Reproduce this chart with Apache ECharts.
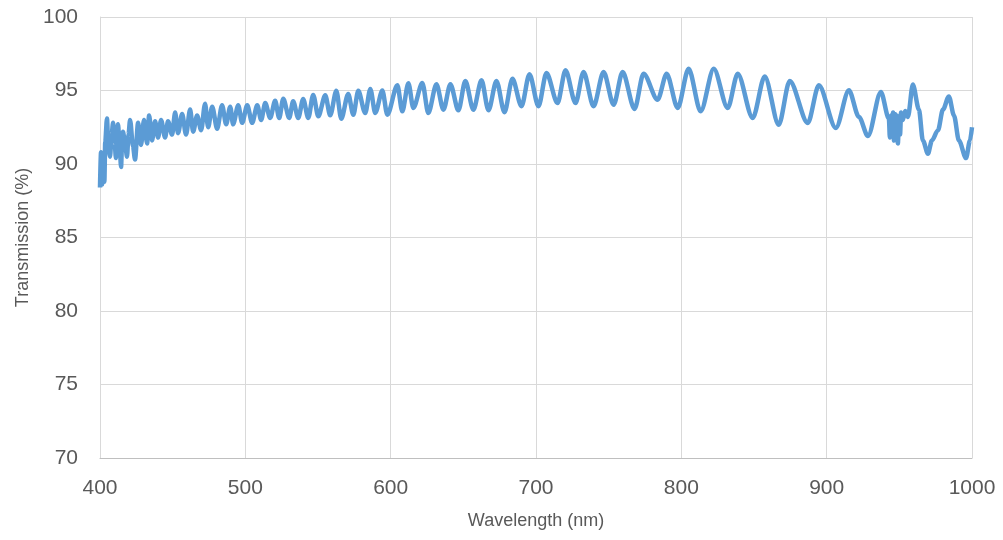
<!DOCTYPE html>
<html lang="en">
<head>
    <meta charset="UTF-8">
    <title>Transmission</title>
    <style>
        *{
            margin: 0;
            padding: 0;
        }
        body{
            background: #ffffff;
        }
        .box{
            width: 1003px;
            height: 540px;
        }
    </style>
    <script src="https://cdn.jsdelivr.net/npm/echarts@6/dist/echarts.min.js"></script>
</head>
<body>
    <div class="box" id="box"></div>
    <script>
        // wavelength (nm)
        var wavelength = [
            400.0, 400.7, 401.4, 402.1, 403.0, 403.6, 404.8, 405.8, 406.9, 408.0,
            409.0, 410.0, 411.0, 411.7, 412.4, 413.5, 414.5, 415.2, 415.8, 417.2,
            418.6, 419.6, 420.7, 422.7, 424.1, 426.2, 428.2, 430.3, 432.4, 433.8,
            435.8, 437.9, 440.0, 442.0, 444.8, 446.8, 449.6, 451.7, 453.7, 456.5,
            459.2, 462.0, 464.1, 466.8, 469.6, 472.3, 474.4, 477.2, 480.6, 484.0,
            486.8, 489.6, 491.6, 495.1, 497.8, 501.3, 504.7, 508.2, 510.9, 513.7,
            517.1, 520.5, 523.3, 526.1, 530.2, 532.9, 536.4, 539.8, 543.3, 546.7,
            550.2, 555.0, 558.4, 562.6, 566.0, 570.8, 574.3, 577.7, 582.5, 586.0,
            589.4, 594.3, 597.7, 604.6, 608.0, 612.2, 615.6, 621.8, 625.9, 631.5,
            636.3, 641.1, 646.6, 651.4, 656.9, 662.5, 667.3, 672.8, 678.3, 683.8,
            690.0, 695.5, 701.7, 707.2, 714.8, 720.3, 727.2, 732.7, 739.6, 746.5,
            753.4, 759.6, 767.8, 774.0, 783.7, 789.9, 797.5, 805.0, 813.3, 822.3,
            831.9, 838.8, 849.1, 857.4, 867.0, 874.6, 887.0, 894.6, 906.3, 915.3,
            922.2, 928.4, 937.3, 942.8, 943.5, 944.3, 945.0, 945.7, 946.3, 947.0,
            947.5, 948.2, 949.0, 949.8, 950.5, 951.2, 952.5, 954.0, 955.9, 959.3,
            963.5, 966.2, 969.7, 972.4, 976.6, 980.0, 984.1, 987.6, 991.0, 995.9,
            998.6, 1000.0
        ];
        // transmission (%)
        var transmission = [
            88.4, 90.8, 88.6, 90.5, 88.8, 91.5, 93.1, 91.0, 90.5, 92.0,
            92.8, 91.5, 90.4, 91.8, 92.7, 91.2, 89.8, 91.5, 92.2, 91.4,
            90.5, 92.0, 93.0, 91.2, 90.3, 92.8, 91.3, 93.0, 91.4, 93.3,
            91.6, 92.9, 91.8, 93.0, 91.8, 92.9, 92.0, 93.5, 92.1, 93.4,
            92.0, 93.7, 92.2, 93.3, 92.3, 94.1, 92.5, 93.9, 92.4, 94.0,
            92.7, 93.9, 92.7, 94.0, 92.8, 94.0, 92.8, 94.0, 93.0, 94.15,
            93.13, 94.3, 93.13, 94.44, 93.13, 94.27, 93.13, 94.42, 93.13, 94.7,
            93.24, 94.67, 93.31, 94.98, 93.08, 94.76, 93.35, 94.98, 93.47, 95.1,
            93.47, 95.0, 93.35, 95.35, 93.58, 95.5, 93.81, 95.51, 93.47, 95.42,
            93.69, 95.42, 93.65, 95.65, 93.69, 95.69, 93.65, 95.65, 93.52, 95.8,
            93.93, 96.1, 93.93, 96.19, 94.15, 96.37, 94.15, 96.26, 93.93, 96.26,
            94.03, 96.26, 93.74, 96.14, 94.37, 96.14, 93.81, 96.48, 93.58, 96.48,
            93.81, 96.14, 93.13, 95.96, 92.67, 95.65, 92.79, 95.35, 92.45, 95.01,
            93.2, 91.9, 94.9, 93.1, 91.8, 93.3, 92.0, 93.5, 91.6, 93.4,
            91.8, 93.3, 91.4, 93.2, 92.0, 93.5, 93.0, 93.6, 93.2, 95.4,
            93.7, 91.6, 90.7, 91.6, 92.3, 93.7, 94.6, 93.3, 91.6, 90.4,
            91.6, 92.5
        ];
        var xTicks = [400, 1000, 100];   // min, max, step
        var yTicks = [70, 100, 5];

        var points = [];
        for (var i = 0; i < wavelength.length; i++) {
            points.push([wavelength[i], transmission[i]]);
        }

        var textColor = '#595959';
        var gridColor = '#d9d9d9';
        var myChart = echarts.init(document.getElementById('box'));
        var option = {
            animation: false,
            grid: {
                left: 100,
                right: 31,
                top: 17,
                bottom: 82
            },
            xAxis: {
                type: 'value',
                min: xTicks[0],
                max: xTicks[1],
                interval: xTicks[2],
                name: 'Wavelength (nm)',
                nameLocation: 'middle',
                nameGap: 54,
                nameTextStyle: {
                    color: textColor,
                    fontSize: 18,
                    fontFamily: 'Liberation Sans'
                },
                axisLine: { lineStyle: { color: '#bfbfbf', width: 1 } },
                axisTick: { show: false },
                axisLabel: {
                    color: textColor,
                    fontSize: 21,
                    fontFamily: 'Liberation Sans',
                    margin: 20,
                    formatter: function (v) { return String(v); }
                },
                splitLine: { show: true, lineStyle: { color: gridColor, width: 1 } }
            },
            yAxis: {
                type: 'value',
                min: yTicks[0],
                max: yTicks[1],
                interval: yTicks[2],
                name: 'Transmission (%)',
                nameLocation: 'middle',
                nameGap: 66,
                nameTextStyle: {
                    color: textColor,
                    fontSize: 18,
                    fontFamily: 'Liberation Sans'
                },
                axisLine: { show: true, lineStyle: { color: gridColor, width: 1 } },
                axisTick: { show: false },
                axisLabel: {
                    color: textColor,
                    fontSize: 21,
                    fontFamily: 'Liberation Sans',
                    margin: 22
                },
                splitLine: { show: true, lineStyle: { color: gridColor, width: 1 } }
            },
            series: [
                {
                    type: 'line',
                    data: points,
                    showSymbol: false,
                    smooth: 0.3,
                    smoothMonotone: 'x',
                    lineStyle: { color: '#5b9bd5', width: 4.5 },
                    itemStyle: { color: '#5b9bd5' }
                }
            ]
        };
        myChart.setOption(option);
    </script>
</body>
</html>
